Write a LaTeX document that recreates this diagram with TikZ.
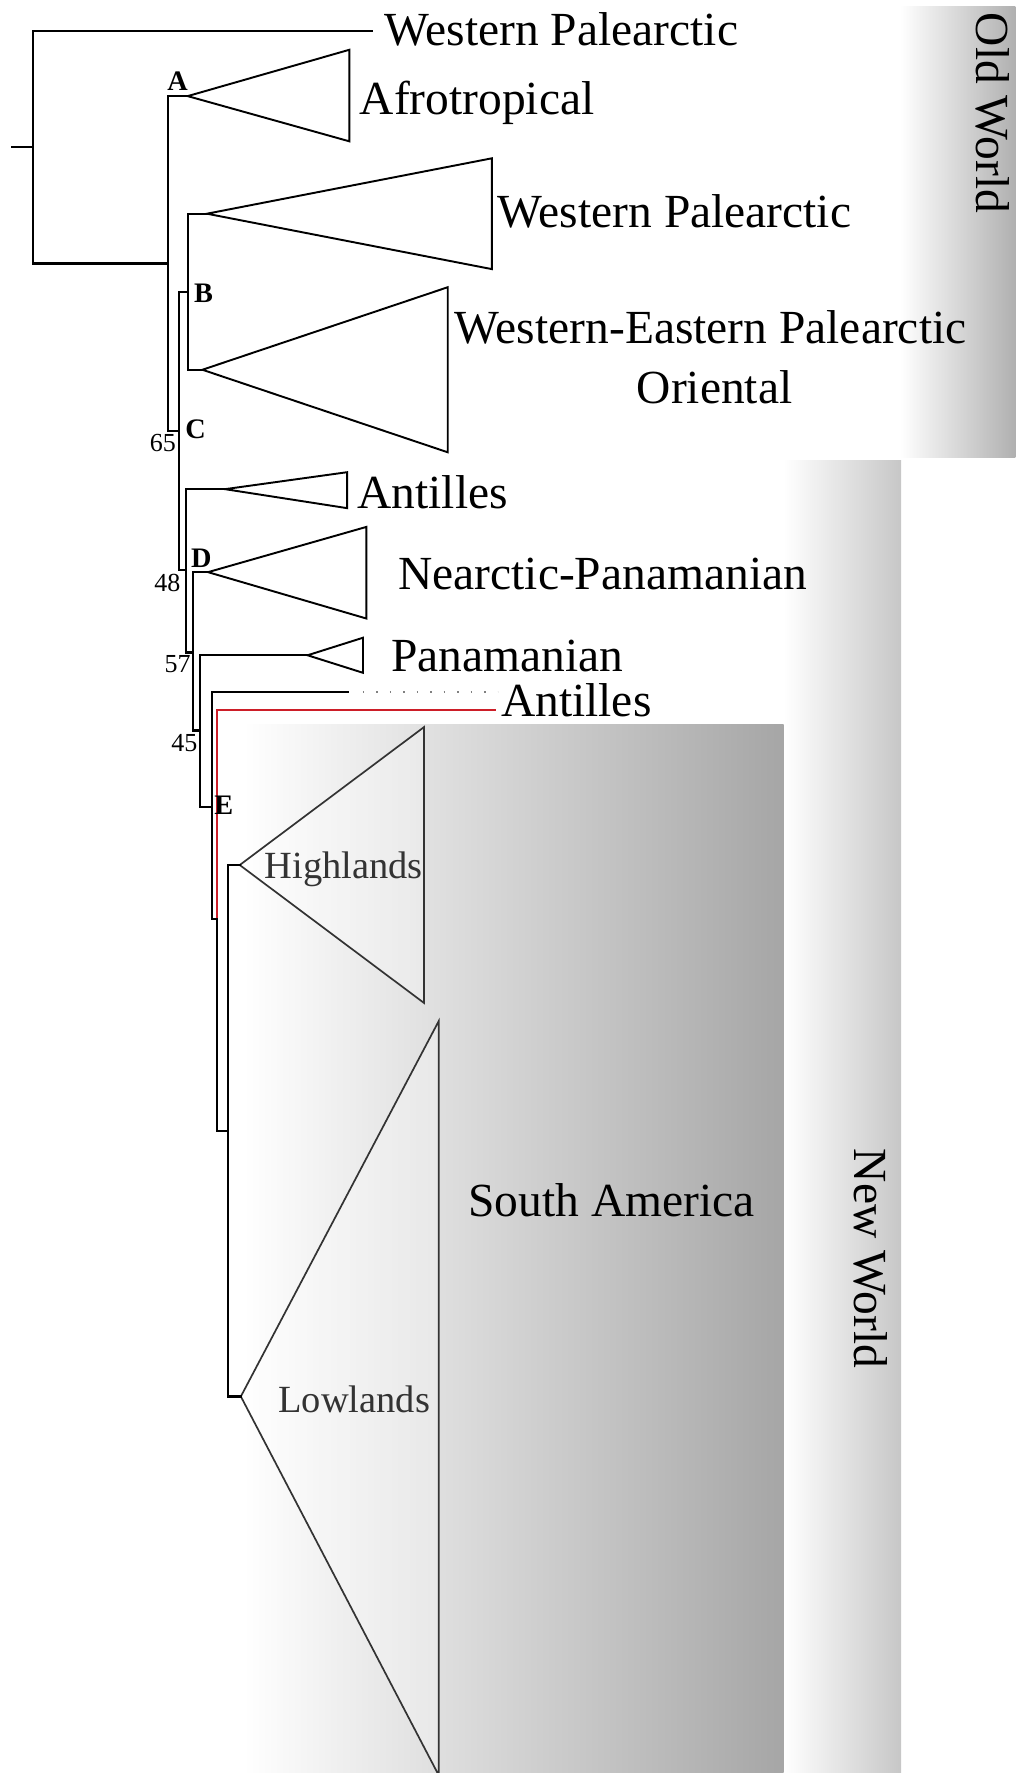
\documentclass[tikz,border=0pt]{standalone}
\usepackage{fontspec}
\setmainfont{Liberation Serif}
\definecolor{redbranch}{RGB}{205,30,40}
\begin{document}
\begin{tikzpicture}[x=1pt,y=-1pt,
  branch/.style={line width=1.9pt, line join=miter, line cap=rect},
  clade/.style={draw, line width=1.7pt, line join=miter},
  cladesa/.style={draw=black!80, line width=1.5pt, line join=miter, fill=white, fill opacity=0.3},
  big/.style={font=\fontsize{42}{48}\selectfont, inner sep=0pt},
  mid/.style={font=\fontsize{34}{40}\selectfont, inner sep=0pt, text=black!80},
  small/.style={font=\fontsize{23}{25}\selectfont, inner sep=0pt},
  nodelab/.style={font=\bfseries\fontsize{25}{27}\selectfont, inner sep=0pt},
]
\useasboundingbox (0,0) rectangle (898,1568);
% background bands
\shade[left color=white, right color=black!31] (796,6) rectangle (898,405);
\shade[left color=white, right color=black!22] (693,407) rectangle (797,1568);
\shade[left color=white, right color=black!35] (215,641) rectangle (693,1568);

% coordinates of the tree
\coordinate (root) at (10.6,130);
\coordinate (n0) at (29,130);
\coordinate (n0t) at (29,27.5);
\coordinate (n0b) at (29,233);
\coordinate (tipWP) at (329,27.5);
\coordinate (n1j) at (148.6,233);
\coordinate (n1t) at (148.6,85);
\coordinate (n1b) at (148.6,381);
\coordinate (aTip) at (166,85);
\coordinate (n2j) at (158.4,381);
\coordinate (n2t) at (158.4,258);
\coordinate (n2b) at (158.4,504);
\coordinate (nBj) at (166.3,258);
\coordinate (nBt) at (166.3,189);
\coordinate (nBb) at (166.3,327);
\coordinate (wpTip) at (183,189);
\coordinate (wepTip) at (179,327);
\coordinate (n3j) at (164.6,504);
\coordinate (n3t) at (164.6,432.6);
\coordinate (n3b) at (164.6,577);
\coordinate (antTip) at (199,432.6);
\coordinate (n4j) at (170.8,577);
\coordinate (n4t) at (170.8,506);
\coordinate (n4b) at (170.8,646);
\coordinate (dTip) at (184,506);
\coordinate (n5j) at (177,646);
\coordinate (n5t) at (177,579.5);
\coordinate (n5b) at (177,714);
\coordinate (panTip) at (272,579.5);
\coordinate (n6j) at (187.6,714);
\coordinate (n6t) at (187.6,612);
\coordinate (n6b) at (187.6,813);
\coordinate (antSolid) at (308,612);
\coordinate (dotS) at (321,612);
\coordinate (dotE) at (440,612);
\coordinate (n7j) at (192,813);
\coordinate (n7t) at (192,628);
\coordinate (n7b) at (192,1000);
\coordinate (antRed) at (438,628);
\coordinate (n8j) at (202,1000);
\coordinate (n8t) at (202,765);
\coordinate (n8b) at (202,1235);
\coordinate (hlTip) at (212,765);
\coordinate (llTip) at (213,1235);

% clade triangles
\draw[clade] (aTip) -- (309,44) -- (309,125) -- cycle;
\draw[clade] (wpTip) -- (435,140) -- (435,238) -- cycle;
\draw[clade] (wepTip) -- (396,254) -- (396,400) -- cycle;
\draw[clade] (antTip) -- (307,417.6) -- (307,449.4) -- cycle;
\draw[clade] (dTip) -- (324,466) -- (324,547) -- cycle;
\draw[clade] (panTip) -- (321,564) -- (321,595) -- cycle;
\draw[cladesa] (hlTip) -- (375,643) -- (375,887) -- cycle;
\draw[cladesa] (llTip) -- (388,903) -- (388,1570) -- cycle;

% branches
\draw[branch] (root) -- (n0);
\draw[branch] (tipWP) -- (n0t) -- (n0b) -- (n1j);
\draw[branch] (aTip) -- (n1t) -- (n1b) -- (n2j);
\draw[branch] (nBj) -- (n2t) -- (n2b) -- (n3j);
\draw[branch] (wpTip) -- (nBt) -- (nBb) -- (wepTip);
\draw[branch] (antTip) -- (n3t) -- (n3b) -- (n4j);
\draw[branch] (dTip) -- (n4t) -- (n4b) -- (n5j);
\draw[branch] (panTip) -- (n5t) -- (n5b) -- (n6j);
\draw[branch] (antSolid) -- (n6t) -- (n6b) -- (n7j);
\draw[branch, redbranch] (antRed) -- (n7t) -- (n7j);
\draw[branch] (n7j) -- (n7b) -- (n8j);
\draw[branch] (hlTip) -- (n8t) -- (n8b) -- (llTip);
\draw[line width=1.3pt, black!50, dash pattern=on 1.3pt off 10.6pt] (dotS) -- (dotE);

% node letters and support values
\node[nodelab] (labA) at (157,72) {A};
\node[nodelab] (labB) at (180,259) {B};
\node[nodelab] (labC) at (173,380) {C};
\node[nodelab] (labD) at (178,494) {D};
\node[nodelab] (labE) at (198,712) {E};
\node[small] (s65) at (144,392) {65};
\node[small] (s48) at (148,516) {48};
\node[small] (s57) at (157,587) {57};
\node[small] (s45) at (163,657) {45};

% tip labels
\node[big, anchor=base west] (tWP1) at (340,40) {Western Palearctic};
\node[big, anchor=base west] (tAf) at (318,101) {Afrotropical};
\node[big, anchor=base west] (tWP2) at (440,201) {Western Palearctic};
\node[big, anchor=base west] (tWEP) at (402,304) {Western-Eastern Palearctic};
\node[big, anchor=base] (tOr) at (632,357) {Oriental};
\node[big, anchor=base west] (tAn1) at (316,450) {Antilles};
\node[big, anchor=base west] (tNP) at (352,521) {Nearctic-Panamanian};
\node[big, anchor=base west] (tPa) at (346,594) {Panamanian};
\node[big, anchor=base west] (tAn2) at (443,634) {Antilles};
\node[big, anchor=base west] (tSA) at (414,1076) {South America};
\node[mid, anchor=base west] (tHL) at (234,777) {Highlands};
\node[mid, anchor=base west] (tLL) at (246,1249) {Lowlands};
\node[big, rotate=-90] (tOW) at (878,100) {Old World};
\node[big, rotate=-90] (tNW) at (770,1113) {New World};
\end{tikzpicture}
\end{document}
